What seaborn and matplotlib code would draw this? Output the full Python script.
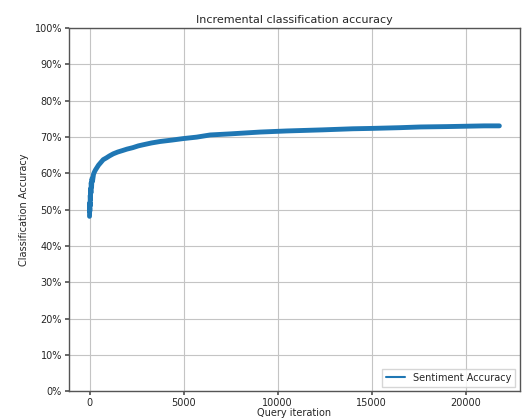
import seaborn as sns
import pandas as pd
import matplotlib.pyplot as plt
from matplotlib.ticker import PercentFormatter

# Values (query iteration, accuracy in %)
iterations = [0, 8, 15, 22, 30, 40, 50, 60, 75, 90, 110, 130, 160, 213, 260,
              320, 394, 480, 580, 729, 900, 1050, 1260, 1500, 1750, 1990,
              2300, 2600, 2856, 3300, 3760, 4400, 4984, 5700, 6420, 7500,
              9085, 10500, 12400, 14000, 15000, 16500, 17600, 19000, 20000,
              21000, 21800]
accuracy = [48.2, 50.5, 49.6, 52.0, 51.0, 54.0, 52.8, 55.8, 54.6, 57.5, 56.3,
            58.6, 57.9, 59.8, 60.4, 61.0, 61.6, 62.3, 62.9, 63.8, 64.3, 64.8,
            65.4, 65.9, 66.3, 66.7, 67.1, 67.6, 67.9, 68.4, 68.8, 69.2, 69.6,
            70.0, 70.6, 70.9, 71.4, 71.7, 72.0, 72.3, 72.4, 72.6, 72.8, 72.9,
            73.0, 73.1, 73.1]

df = pd.DataFrame({'Query iteration': iterations, 'Accuracy': accuracy})

sns.set_theme(style='ticks', rc={'axes.grid': True, 'grid.color': '#c4c4c4',
                                 'grid.linewidth': 0.8,
                                 'axes.edgecolor': '#555555',
                                 'axes.linewidth': 1.0})
fig, ax = plt.subplots(figsize=(5.31, 4.2), dpi=100)
fig.subplots_adjust(left=0.130, right=0.979, top=0.933, bottom=0.068)

sns.lineplot(data=df, x='Query iteration', y='Accuracy', ax=ax,
             color='#1f77b4', linewidth=3.5, label='Sentiment Accuracy')

ax.set_ylim(0, 100)
ax.set_yticks(range(0, 101, 10))
ax.yaxis.set_major_formatter(PercentFormatter(decimals=0))
ax.set_xticks([0, 5000, 10000, 15000, 20000])
ax.tick_params(labelsize=7, length=3, pad=2, color='#555555')
ax.set_xlabel('Query iteration', fontsize=7, labelpad=0)
ax.set_ylabel('Classification Accuracy', fontsize=7)
ax.set_title('Incremental classification accuracy', fontsize=8, pad=4)

leg = ax.legend(loc='lower right', fontsize=7, frameon=True, fancybox=False)
for line in leg.get_lines():
    line.set_linewidth(1.5)

plt.savefig('out.png')
